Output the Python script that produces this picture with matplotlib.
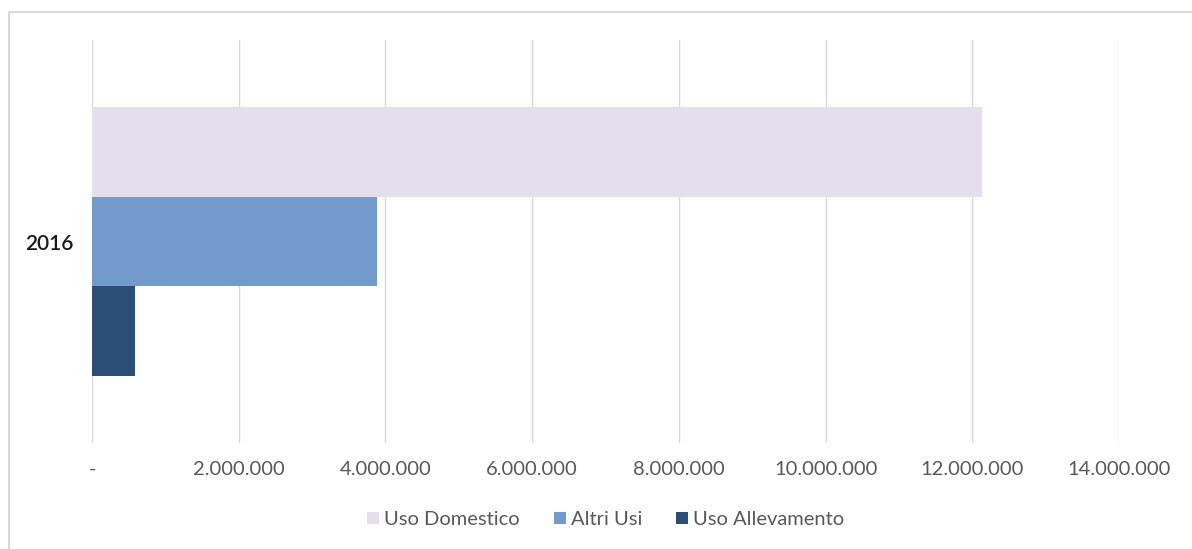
import numpy as np
import matplotlib.pyplot as plt
from matplotlib.patches import Rectangle
from matplotlib.ticker import FuncFormatter

plt.rcParams['font.family'] = ['Lato', 'DejaVu Sans']

category = '2016'
series = ['Uso Domestico', 'Altri Usi', 'Uso Allevamento']
values = [12130000, 3890000, 587000]
colors = ['#E4DFEC', '#729ACB', '#2C4D75']
xticks = np.arange(0, 14000001, 2000000)


def fmt(v, pos):
    if v == 0:
        return '-'
    return f'{int(v):,}'.replace(',', '.')


fig = plt.figure(figsize=(11.92, 5.49), dpi=100)
ax = fig.add_axes([92 / 1192, 1 - 443 / 549, (1119 - 92) / 1192, (443 - 40) / 549])

# grey frame around the chart area
fig.patches.append(Rectangle((9 / 1192, -0.05), 1.2, 1 - 12 / 549 + 0.05,
                             transform=fig.transFigure, fill=False,
                             edgecolor='#D9D9D9', linewidth=1.5))

bar_h = 0.222
offsets = [bar_h, 0, -bar_h]
for name, v, c, off in zip(series, values, colors, offsets):
    ax.barh(off, v, height=bar_h, color=c, label=name)

ax.set_ylim(-0.5, 0.5)
ax.set_xlim(0, 14000000)
ax.set_xticks(xticks)
ax.xaxis.set_major_formatter(FuncFormatter(fmt))
ax.set_yticks([0])
ax.set_yticklabels([category])
ax.tick_params(axis='both', length=0)
ax.tick_params(axis='x', labelsize=14.5, labelcolor='#595959', pad=13)
ax.tick_params(axis='y', labelsize=15, labelcolor='#1A1A1A', pad=13)
for lbl in ax.get_yticklabels():
    lbl.set_fontweight('semibold')
ax.grid(axis='x', color='#D9D9D9', linewidth=1)
ax.set_axisbelow(True)
for s in ax.spines.values():
    s.set_visible(False)

ax.legend(loc='center', bbox_to_anchor=(0.5, -0.19), ncol=3, frameon=False,
          fontsize=14.5, labelcolor='#595959', handlelength=0.6, handleheight=0.6,
          handletextpad=0.25, columnspacing=1.7)

fig.savefig('out.png', dpi=100)
